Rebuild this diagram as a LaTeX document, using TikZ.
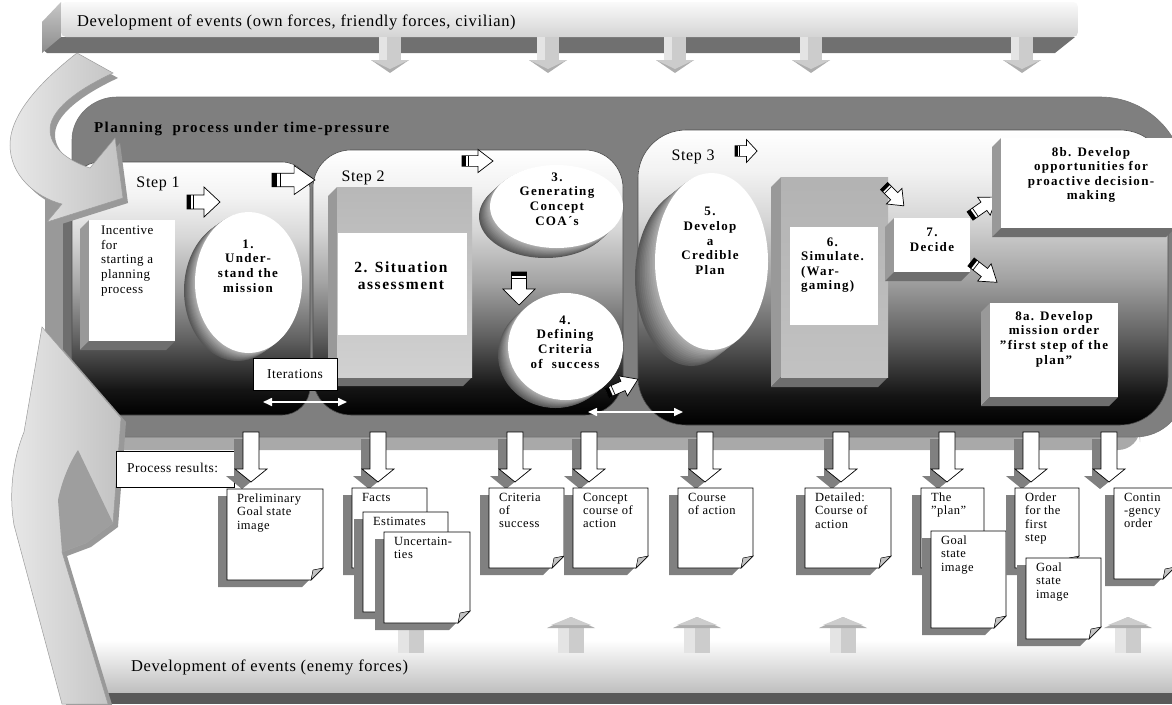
\documentclass[tikz,border=0pt]{standalone}
\usepackage{fontspec}
\setmainfont{Liberation Serif}
\newfontfamily\wide{Liberation Serif}[LetterSpace=4]
\newfontfamily\wider{Liberation Serif}[LetterSpace=10]
\usetikzlibrary{arrows.meta,shapes.geometric}

\definecolor{panelgray}{HTML}{7F7F7F}
\definecolor{shelfgray}{HTML}{A9A9A9}
\definecolor{bandgray}{HTML}{707070}
\definecolor{sidegray}{HTML}{999999}
\definecolor{deepgray}{HTML}{6E6E6E}
\definecolor{dropgray}{HTML}{808080}
\definecolor{foldgray}{HTML}{C4C4C4}
\definecolor{arrowlight}{HTML}{E4E4E4}
\definecolor{arrowmid}{HTML}{CCCCCC}
\definecolor{arrowdark}{HTML}{AEAEAE}
\definecolor{sweepedge}{HTML}{9C9C9C}

% white at the top, black at the floor of each step panel
\pgfdeclareverticalshading{stepshade}{100bp}{%
  color(0bp)=(black); color(25bp)=(black); color(30bp)=(black!92);
  color(40bp)=(black!62); color(50bp)=(black!36); color(60bp)=(black!16);
  color(68bp)=(black!5); color(75bp)=(white); color(100bp)=(white)}

\tikzset{
  every node/.style={inner sep=0pt, outer sep=0pt},
  bartxt/.style={font=\wide\fontsize{16.5}{18}\selectfont, anchor=west},
  titletxt/.style={font=\wider\bfseries\fontsize{15}{17}\selectfont, anchor=west},
  steptxt/.style={font=\wide\fontsize{16}{18}\selectfont},
  plaintxt/.style={font=\wide\fontsize{13}{14.6}\selectfont, align=left},
  boldtxt/.style={font=\wider\bfseries\fontsize{13}{14.6}\selectfont, align=center},
  doctxt/.style={font=\wide\fontsize{12.5}{13.2}\selectfont, align=left, anchor=north west},
  whitebox/.style={rectangle, fill=white},
  framebox/.style={rectangle, fill=white, draw=black, line width=0.7pt},
  stepframe/.style={shading=stepshade, draw=black!70, line width=0.6pt},
  whiteoval/.style={ellipse, fill=white},
  twoway/.style={draw=white, line width=1.6pt, {Triangle[length=9pt,width=8pt]}-{Triangle[length=9pt,width=8pt]}},
  sweepface/.style={left color=black!9, right color=black!24, draw=sweepedge, line width=0.5pt},
  % white block arrow with a striped tail, pointing along +x
  pics/blockarrow/.style={code={
    \filldraw[fill=white, draw=black, line width=0.7pt]
      (0,-7) -- (17,-7) -- (17,-15) -- (33,0) -- (17,15) -- (17,7) -- (0,7) -- cycle;
    \fill[black] (0,-7) rectangle (4,7);
    \draw[black, line width=0.7pt] (6.5,-7) -- (6.5,7);
  }},
  % grey arrow hanging from the upper event bar
  pics/feedarrow/.style={code={
    \fill[arrowmid] (-11,0) rectangle (11,23);
    \fill[arrowlight] (-11,0) rectangle (-3,23);
    \fill[arrowdark] (-19,23) -- (19,23) -- (0,36) -- cycle;
    \fill[arrowmid] (-19,23) -- (19,23) -- (0,32) -- cycle;
  }},
  % grey arrow rising from the lower event bar
  pics/riserarrow/.style={code={
    \fill[arrowmid] (-13,0) rectangle (13,-26);
    \fill[arrowlight] (-13,0) rectangle (-2,-26);
    \fill[arrowdark] (-24,-25) -- (24,-25) -- (0,-36) -- cycle;
    \fill[arrowmid] (-20,-28) -- (20,-28) -- (0,-36) -- cycle;
  }},
  % white result arrow with its drop shadow
  pics/resultarrow/.style={code={
    \fill[dropgray] (-17,7) -- (-1,7) -- (-1,44) -- (7,44) -- (-9,57) -- (-25,44) -- (-17,44) -- cycle;
    \filldraw[fill=white, draw=black, line width=0.7pt]
      (-8,0) -- (8,0) -- (8,37) -- (16,37) -- (0,50) -- (-16,37) -- (-8,37) -- cycle;
  }},
}

% side and floor faces of a raised box whose front is (#1,#2)-(#3,#4)
\newcommand\boxside[5]{%
  \fill[sidegray] (#1,#2) -- ({#1-#5},{#2+#5}) -- ({#1-#5},{#4+#5}) -- (#1,#4) -- cycle;
  \fill[deepgray] (#1,#4) -- ({#1-#5},{#4+#5}) -- ({#3-#5},{#4+#5}) -- (#3,#4) -- cycle;
}
% extruded oval: centre, radii, depth offset
\newcommand\ovalblock[6]{%
  \foreach \k in {12,11,...,1}{%
    \pgfmathtruncatemacro\lev{30+3*\k}%
    \fill[black!\lev] ({#1+(#5)*\k/12},{#2+(#6)*\k/12}) ellipse [x radius=#3, y radius=#4];
  }%
}
% result sheet with folded corner and shadow
\newcommand\docsheet[6]{%
  \fill[dropgray] ({#2-9},{#3+7}) -- ({#4-9},{#3+7}) -- ({#4-9},{#5-5}) -- ({#4-21},{#5+7}) -- ({#2-9},{#5+7}) -- cycle;
  \filldraw[fill=white, draw=black, line width=0.7pt] (#2,#3) -- (#4,#3) -- (#4,{#5-12}) -- ({#4-12},#5) -- (#2,#5) -- cycle;
  \filldraw[fill=foldgray, draw=black, line width=0.5pt] (#4,{#5-12}) -- ({#4-12},#5) -- ({#4-10},{#5-10}) -- cycle;
  \node[doctxt] (#1) at ({#2+10},{#3+5}) {#6};
}
% outlines of the two sweeping arrows on the left
\newcommand\topsweep{(77,53) .. controls (45,78) and (10,112) .. (10,145)
  .. controls (10,175) and (35,197) .. (62,204) -- (47,222) -- (123,198) -- (115,138) -- (90,168)
  .. controls (66,160) and (49,146) .. (50,128) .. controls (52,106) and (85,86) .. (113,73) -- cycle}
\newcommand\lowsweep{(62,704) -- (14,525) .. controls (9,495) and (12,462) .. (24,432)
  -- (42,327) -- (121,418) -- (113,523) -- (86,543) -- (62,552) -- (108,704) -- cycle}

\begin{document}
\begin{tikzpicture}[x=1pt,y=-1pt]
\useasboundingbox (0,0) rectangle (1172,704);
\clip (0,0) rectangle (1172,704);
\fill[white] (0,0) rectangle (1172,704);

% ---------- upper event bar ----------
\fill[bandgray] (61,37) -- (1075,37) -- (1055,53) -- (47,53) -- (42,49) -- cycle;
\shade[top color=black!22, bottom color=black!45] (61,2) -- (61,37) -- (42,53) -- (42,22) -- cycle;
\shade[top color=black!2, bottom color=black!17, rounded corners=5pt] (61,2) rectangle (1078,37);
\node[bartxt] (ownforces) at (77,22) {Development of events (own forces, friendly forces, civilian)};
\foreach \cx in {390,548,675,811,1022} \pic at (\cx,37) {feedarrow};

% ---------- planning panel ----------
\fill[shelfgray, rounded corners=22pt] (60,420) rectangle (1140,450);
\filldraw[fill=panelgray, draw=black!55, line width=0.6pt] (72,437) -- (72,140) .. controls (72,116) and (93,97) .. (117,97)
  -- (1100,97) .. controls (1147,97) and (1185,135) .. (1185,182)
  -- (1185,387) .. controls (1185,415) and (1163,437) .. (1135,437) -- cycle;
\fill[sidegray] (45,190) rectangle (72,437);
\fill[deepgray] (63,190) rectangle (72,437);
\node[titletxt] (title) at (94,129) {Planning\ \ process under time-pressure};

% ---------- step panels ----------
\shadedraw[stepframe, rounded corners=28pt] (72,162) rectangle (310,415);
\shadedraw[stepframe, rounded corners=38pt] (313,150) rectangle (623,415);
\shadedraw[stepframe, rounded corners=48pt] (638,130) rectangle (1168,425);
\node[steptxt] (step1) at (158,184) {Step 1};
\node[steptxt] (step2) at (363,178) {Step 2};
\node[steptxt] (step3) at (693,157) {Step 3};

% step 1
\boxside{89}{220}{175}{341}{9}
\node[whitebox, minimum width=86pt, minimum height=121pt] (incentive) at (132,280.5) {};
\node[plaintxt, anchor=north west] (incentivetxt) at (101,226) {Incentive\\for\\starting a\\planning\\process};
\ovalblock{248.5}{282.5}{53.5}{70.5}{-11}{8}
\node[whiteoval, minimum width=107pt, minimum height=141pt] (understand) at (248.5,282.5) {};
\node[boldtxt] (understandtxt) at (248,266) {1.\\Under-\\stand the\\mission};
\pic at (187,202) {blockarrow};
\pic[xscale=1.3, yscale=0.97] at (272,180) {blockarrow};

% step 2
\boxside{337}{187}{472}{377}{9}
\shade[top color=black!28, bottom color=black!18] (337,187) rectangle (472,377);
\node[whitebox, minimum width=129pt, minimum height=102pt] (situation) at (402.5,284) {};
\node[boldtxt, font=\wider\bfseries\fontsize{15.5}{17}\selectfont] (situationtxt) at (401,276) {2. Situation\\assessment};
\pic[xscale=0.94, yscale=0.77] at (462,161) {blockarrow};
\ovalblock{556.5}{206.5}{66.5}{41.5}{-11}{10}
\node[whiteoval, minimum width=133pt, minimum height=83pt] (generate) at (556.5,206.5) {};
\node[boldtxt] (generatetxt) at (557,199) {3.\\Generating\\Concept\\COA´s};
\pic[rotate=-90, yscale=1.07] at (519,272) {blockarrow};
\ovalblock{565.5}{346.5}{57.5}{53.5}{-10}{8}
\node[whiteoval, minimum width=115pt, minimum height=107pt] (criteria) at (565.5,346.5) {};
\node[boldtxt] (criteriatxt) at (565,342) {4.\\Defining\\Criteria\\of\ \ success};
\pic[rotate=24, xscale=1.03, yscale=0.73] at (607,393) {blockarrow};

% step 3
\pic[xscale=0.67, yscale=0.77] at (735,151) {blockarrow};
\ovalblock{711.5}{261.5}{56.5}{88.5}{-20}{16}
\node[whiteoval, minimum width=113pt, minimum height=177pt] (credible) at (711.5,261.5) {};
\node[boldtxt] (credibletxt) at (710,241) {5.\\Develop\\a\\Credible\\Plan};
\boxside{781}{177}{888}{377}{10}
\shade[top color=black!30, bottom color=black!24] (781,177) rectangle (888,377);
\node[whitebox, minimum width=88pt, minimum height=98pt] (simulate) at (834,276) {};
\node[font=\wider\bfseries\fontsize{13}{14.6}\selectfont, anchor=west] (simulatetxt) at (801,265)
  {\begin{tabular}{@{}l@{}}\multicolumn{1}{@{}c@{}}{6.}\\Simulate.\\(War-\\gaming)\end{tabular}};
\pic[rotate=-45, xscale=0.85, yscale=0.73] at (884,186) {blockarrow};
\boxside{894}{218}{970}{272}{9}
\node[whitebox, minimum width=76pt, minimum height=54pt] (decide) at (932,245) {};
\node[boldtxt] (decidetxt) at (932,240) {7.\\Decide};
\pic[rotate=35, yscale=0.73] at (970,216) {blockarrow};
\pic[rotate=-38, yscale=0.73] at (971,262) {blockarrow};
\boxside{1001}{138}{1175}{228}{9}
\node[whitebox, minimum width=174pt, minimum height=90pt] (proactive) at (1088,183) {};
\node[boldtxt] (proactivetxt) at (1091,175) {8b. Develop\\opportunities for\\proactive decision-\\making};
\boxside{990}{303}{1118}{397}{9}
\node[whitebox, minimum width=128pt, minimum height=94pt] (missionorder) at (1054,350) {};
\node[boldtxt] (missionordertxt) at (1054,339) {8a. Develop\\mission order\\”first step of the\\plan”};

% iterations between the steps
\node[framebox, minimum width=84pt, minimum height=32pt, font=\wide\fontsize{13.5}{15}\selectfont] (iterations) at (295,374) {Iterations};
\coordinate (itA) at (263,402);
\coordinate (itB) at (347,402);
\coordinate (itC) at (588,412);
\coordinate (itD) at (683,412);
\draw[twoway] (itA) -- (itB);
\draw[twoway] (itC) -- (itD);

% ---------- lower event bar ----------
\fill[black!65] (62,692) rectangle (1172,704);
\shade[top color=white, bottom color=black!25] (62,640) rectangle (1172,692);
\node[bartxt] (enemy) at (131,667) {Development of events (enemy forces)};
\foreach \cx in {411,571,697,843,1128} \pic at (\cx,653) {riserarrow};

% ---------- sweeping arrows on the left ----------
\fill[black!40] [shift={(5,5)}] \topsweep;
\path[sweepface] \topsweep;
\fill[black!40] [shift={(5,4)}] \lowsweep;
\path[sweepface] \lowsweep;
\fill[black!38] (78,450) -- (113,523) -- (86,543) -- (62,552) -- (58,500) .. controls (62,480) and (70,462) .. (78,450) -- cycle;

% ---------- process results ----------
\node[framebox, minimum width=118pt, minimum height=36pt] (results) at (175,469) {};
\node[font=\wide\fontsize{13.5}{15}\selectfont, anchor=west] (resultstxt) at (127,468) {Process results:};
\foreach \cx in {251,378,515,589,705,841,947,1031,1109} \pic at (\cx,432) {resultarrow};

\docsheet{prelim}{227}{489}{323}{580}{Preliminary\\Goal state\\image}
\docsheet{facts}{352}{488}{427}{568}{Facts}
\docsheet{estimates}{363}{512}{448}{612}{Estimates}
\docsheet{uncertain}{384}{532}{470}{623}{Uncertain-\\ties}
\docsheet{successdoc}{489}{488}{564}{568}{Criteria\\of\\success}
\docsheet{conceptdoc}{573}{488}{648}{568}{Concept\\course of\\action}
\docsheet{coursedoc}{678}{488}{753}{568}{Course\\of action}
\docsheet{detaildoc}{805}{488}{891}{568}{Detailed:\\Course of\\action}
\docsheet{plandoc}{921}{488}{984}{568}{The\\”plan”}
\docsheet{goalone}{931}{531}{1006}{628}{Goal\\state\\image}
\docsheet{firststep}{1015}{488}{1079}{568}{Order\\for the\\first\\step}
\docsheet{goaltwo}{1026}{558}{1101}{639}{Goal\\state\\image}
\docsheet{contingency}{1114}{488}{1175}{579}{Contin\\-gency\\order}
\end{tikzpicture}
\end{document}
